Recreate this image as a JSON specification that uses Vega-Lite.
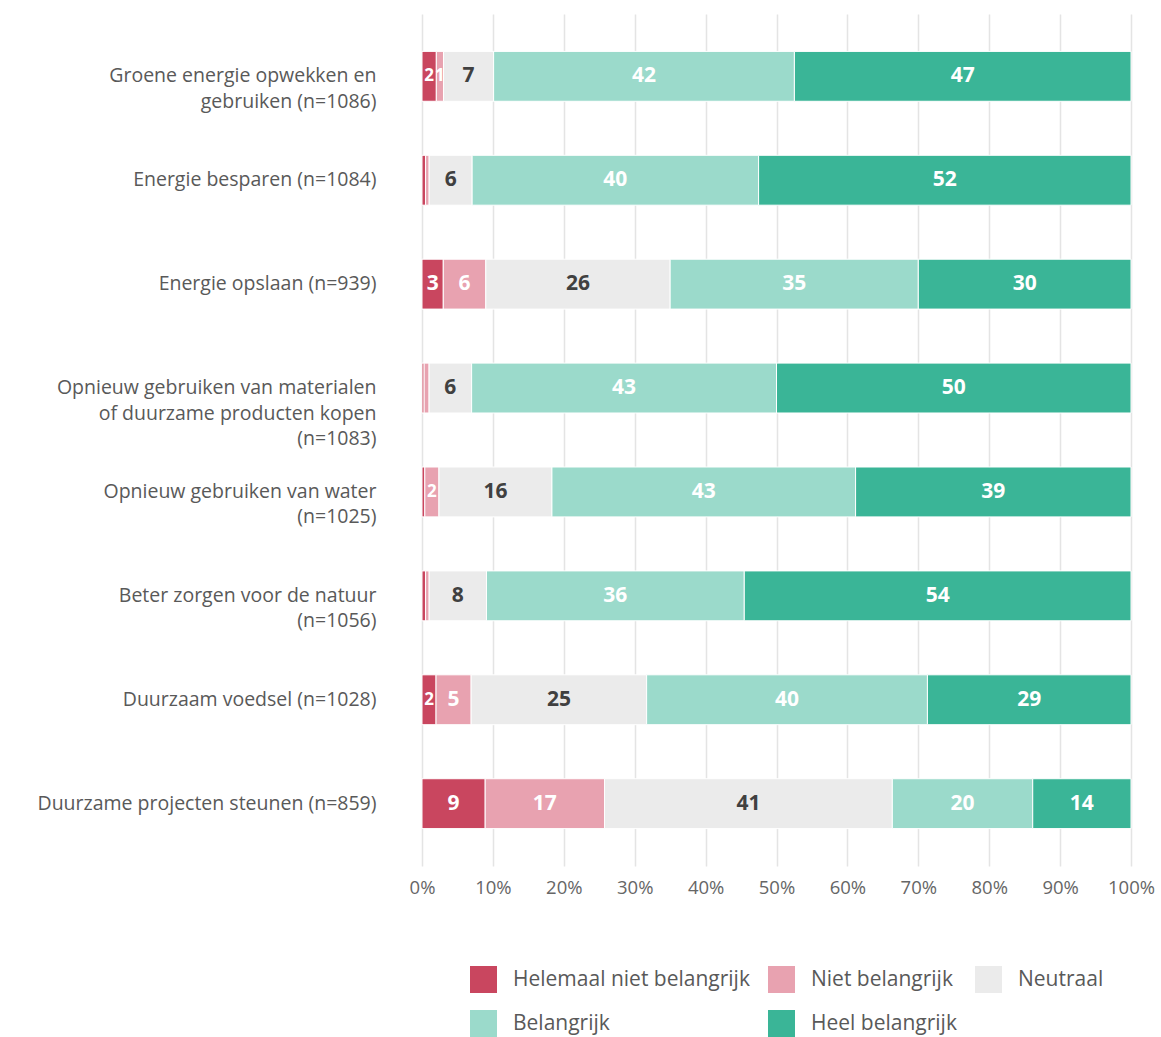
{
  "$schema": "https://vega.github.io/schema/vega-lite/v6.json",
  "width": 709,
  "height": 852,
  "autosize": "none",
  "padding": {"left": 422, "top": 14, "right": 30, "bottom": 171},
  "background": "white",
  "config": {
    "view": {"stroke": null},
    "font": "Open Sans",
    "axis": {"labelFont": "Open Sans", "titleFont": "Open Sans"},
    "legend": {"labelFont": "Open Sans"}
  },
  "data": {
    "values": [
      {"cat": "Groene energie opwekken en|gebruiken (n=1086)", "resp": "Helemaal niet belangrijk", "o": 1, "value": 2},
      {"cat": "Groene energie opwekken en|gebruiken (n=1086)", "resp": "Niet belangrijk", "o": 2, "value": 1},
      {"cat": "Groene energie opwekken en|gebruiken (n=1086)", "resp": "Neutraal", "o": 3, "value": 7},
      {"cat": "Groene energie opwekken en|gebruiken (n=1086)", "resp": "Belangrijk", "o": 4, "value": 42},
      {"cat": "Groene energie opwekken en|gebruiken (n=1086)", "resp": "Heel belangrijk", "o": 5, "value": 47},
      {"cat": "Energie besparen (n=1084)", "resp": "Helemaal niet belangrijk", "o": 1, "value": 0.5},
      {"cat": "Energie besparen (n=1084)", "resp": "Niet belangrijk", "o": 2, "value": 0.5},
      {"cat": "Energie besparen (n=1084)", "resp": "Neutraal", "o": 3, "value": 6},
      {"cat": "Energie besparen (n=1084)", "resp": "Belangrijk", "o": 4, "value": 40},
      {"cat": "Energie besparen (n=1084)", "resp": "Heel belangrijk", "o": 5, "value": 52},
      {"cat": "Energie opslaan (n=939)", "resp": "Helemaal niet belangrijk", "o": 1, "value": 3},
      {"cat": "Energie opslaan (n=939)", "resp": "Niet belangrijk", "o": 2, "value": 6},
      {"cat": "Energie opslaan (n=939)", "resp": "Neutraal", "o": 3, "value": 26},
      {"cat": "Energie opslaan (n=939)", "resp": "Belangrijk", "o": 4, "value": 35},
      {"cat": "Energie opslaan (n=939)", "resp": "Heel belangrijk", "o": 5, "value": 30},
      {"cat": "Opnieuw gebruiken van materialen|of duurzame producten kopen|(n=1083)", "resp": "Helemaal niet belangrijk", "o": 1, "value": 0.3},
      {"cat": "Opnieuw gebruiken van materialen|of duurzame producten kopen|(n=1083)", "resp": "Niet belangrijk", "o": 2, "value": 0.7},
      {"cat": "Opnieuw gebruiken van materialen|of duurzame producten kopen|(n=1083)", "resp": "Neutraal", "o": 3, "value": 6},
      {"cat": "Opnieuw gebruiken van materialen|of duurzame producten kopen|(n=1083)", "resp": "Belangrijk", "o": 4, "value": 43},
      {"cat": "Opnieuw gebruiken van materialen|of duurzame producten kopen|(n=1083)", "resp": "Heel belangrijk", "o": 5, "value": 50},
      {"cat": "Opnieuw gebruiken van water|(n=1025)", "resp": "Helemaal niet belangrijk", "o": 1, "value": 0.4},
      {"cat": "Opnieuw gebruiken van water|(n=1025)", "resp": "Niet belangrijk", "o": 2, "value": 2},
      {"cat": "Opnieuw gebruiken van water|(n=1025)", "resp": "Neutraal", "o": 3, "value": 16},
      {"cat": "Opnieuw gebruiken van water|(n=1025)", "resp": "Belangrijk", "o": 4, "value": 43},
      {"cat": "Opnieuw gebruiken van water|(n=1025)", "resp": "Heel belangrijk", "o": 5, "value": 39},
      {"cat": "Beter zorgen voor de natuur|(n=1056)", "resp": "Helemaal niet belangrijk", "o": 1, "value": 0.5},
      {"cat": "Beter zorgen voor de natuur|(n=1056)", "resp": "Niet belangrijk", "o": 2, "value": 0.5},
      {"cat": "Beter zorgen voor de natuur|(n=1056)", "resp": "Neutraal", "o": 3, "value": 8},
      {"cat": "Beter zorgen voor de natuur|(n=1056)", "resp": "Belangrijk", "o": 4, "value": 36},
      {"cat": "Beter zorgen voor de natuur|(n=1056)", "resp": "Heel belangrijk", "o": 5, "value": 54},
      {"cat": "Duurzaam voedsel (n=1028)", "resp": "Helemaal niet belangrijk", "o": 1, "value": 2},
      {"cat": "Duurzaam voedsel (n=1028)", "resp": "Niet belangrijk", "o": 2, "value": 5},
      {"cat": "Duurzaam voedsel (n=1028)", "resp": "Neutraal", "o": 3, "value": 25},
      {"cat": "Duurzaam voedsel (n=1028)", "resp": "Belangrijk", "o": 4, "value": 40},
      {"cat": "Duurzaam voedsel (n=1028)", "resp": "Heel belangrijk", "o": 5, "value": 29},
      {"cat": "Duurzame projecten steunen (n=859)", "resp": "Helemaal niet belangrijk", "o": 1, "value": 9},
      {"cat": "Duurzame projecten steunen (n=859)", "resp": "Niet belangrijk", "o": 2, "value": 17},
      {"cat": "Duurzame projecten steunen (n=859)", "resp": "Neutraal", "o": 3, "value": 41},
      {"cat": "Duurzame projecten steunen (n=859)", "resp": "Belangrijk", "o": 4, "value": 20},
      {"cat": "Duurzame projecten steunen (n=859)", "resp": "Heel belangrijk", "o": 5, "value": 14}
    ]
  },
  "transform": [
    {"stack": "value", "groupby": ["cat"], "sort": [{"field": "o"}], "as": ["v0", "v1"], "offset": "normalize"}
  ],
  "encoding": {
    "y": {
      "field": "cat", "type": "nominal", "sort": null, "title": null,
      "scale": {"paddingInner": 0.52, "paddingOuter": 0.36},
      "axis": {
        "labelExpr": "split(datum.label, '|')",
        "labelFontSize": 19.5, "labelColor": "#595959", "labelPadding": 46,
        "labelLineHeight": 25.5, "labelLimit": 500,
        "domain": false, "ticks": false, "grid": false
      }
    }
  },
  "layer": [
    {
      "mark": {"type": "bar", "stroke": "white", "strokeWidth": 1},
      "encoding": {
        "x": {
          "field": "v0", "type": "quantitative", "title": null,
          "scale": {"domain": [0, 1], "nice": false},
          "axis": {
            "format": ".0%", "values": [0, 0.1, 0.2, 0.3, 0.4, 0.5, 0.6, 0.7, 0.8, 0.9, 1],
            "labelFontSize": 18.5, "labelColor": "#666666", "labelPadding": 12,
            "labelFlush": false,
            "domain": false, "ticks": false, "grid": true,
            "gridColor": "#e4e4e4", "gridWidth": 1.5
          }
        },
        "x2": {"field": "v1"},
        "color": {
          "field": "resp", "type": "nominal", "title": null,
          "scale": {
            "domain": ["Helemaal niet belangrijk", "Niet belangrijk", "Neutraal", "Belangrijk", "Heel belangrijk"],
            "range": ["#C9465F", "#E8A2B0", "#EBEBEB", "#9BDACB", "#3AB597"]
          },
          "legend": {
            "orient": "none", "legendX": 48, "legendY": 952,
            "direction": "horizontal", "columns": 3,
            "symbolType": "square", "symbolSize": 729, "symbolStrokeWidth": 0,
            "symbolOpacity": 1,
            "labelFontSize": 21, "labelColor": "#595959", "labelOffset": 16,
            "rowPadding": 17, "columnPadding": 18, "labelLimit": 400
          }
        }
      }
    },
    {
      "transform": [
        {"filter": "datum.value >= 1"},
        {"calculate": "(datum.v0 + datum.v1) / 2", "as": "mid"}
      ],
      "mark": {"type": "text", "fontWeight": "bold", "align": "center", "baseline": "middle"},
      "encoding": {
        "x": {"field": "mid", "type": "quantitative"},
        "text": {"field": "value", "type": "quantitative", "format": ".0f"},
        "size": {
          "condition": {"test": "datum.value <= 2", "value": 17},
          "value": 21
        },
        "color": {
          "condition": {"test": "datum.resp === 'Neutraal'", "value": "#404040"},
          "value": "white"
        }
      }
    }
  ]
}
